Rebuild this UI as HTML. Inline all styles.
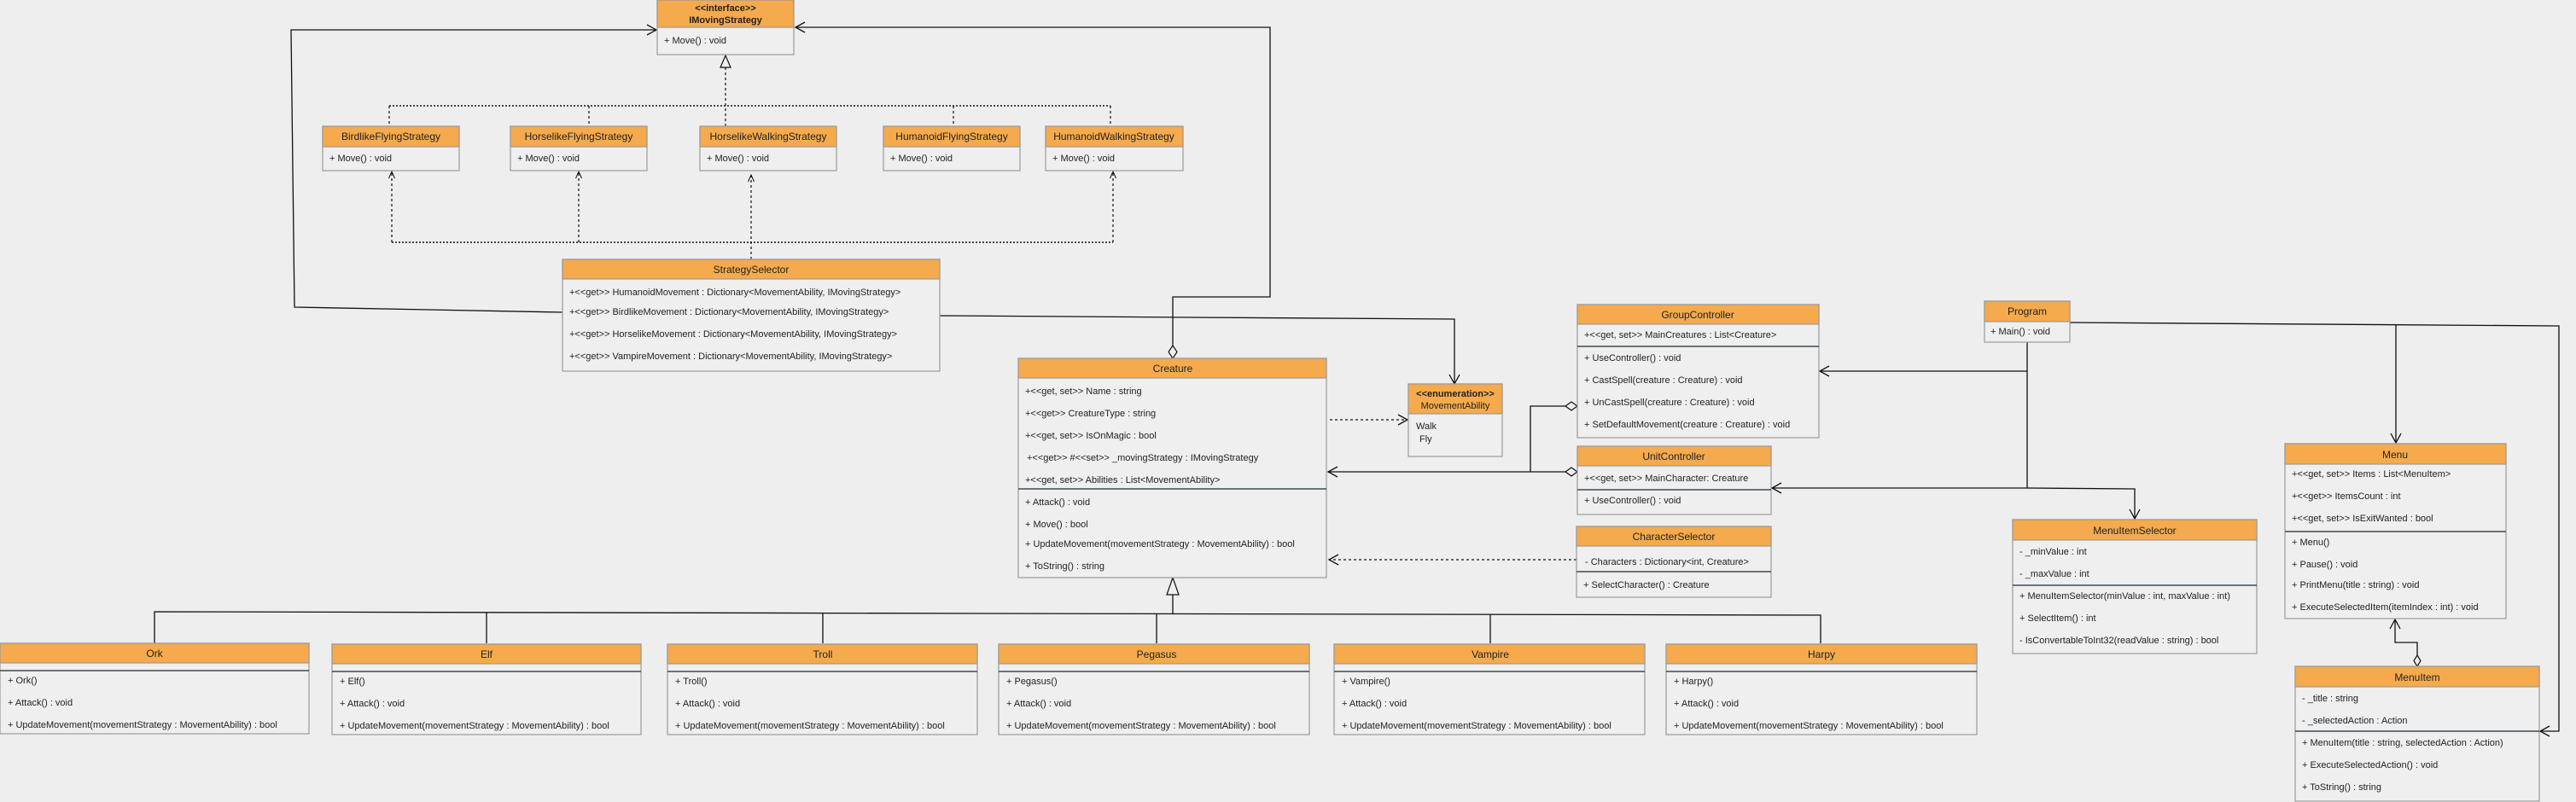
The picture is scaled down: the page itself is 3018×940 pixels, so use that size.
<!DOCTYPE html>
<html><head><meta charset="utf-8"><style>
html,body{margin:0;padding:0;background:#eeeeee;}
svg{display:block;}
text{font-family:"Liberation Sans",Arial,sans-serif;font-size:11px;fill:#222;}
.h{fill:#f4aa4d;stroke:#9a9a9a;stroke-width:1.2;}
.b{fill:#efefef;stroke:#9a9a9a;stroke-width:1.2;}
.t{text-anchor:middle;font-size:12px;}
.d{stroke:#3d4a57;stroke-width:1.5;}
.l{fill:none;stroke:#111;stroke-width:1.3;}
.ds{fill:none;stroke:#111;stroke-width:1.2;stroke-dasharray:3,3;}
.dot{fill:none;stroke:#111;stroke-width:1.5;stroke-dasharray:2,2;}
</style></head><body>
<svg width="3018" height="940" viewBox="0 0 3018 940" xmlns="http://www.w3.org/2000/svg">
<defs>
<marker id="o" markerUnits="userSpaceOnUse" markerWidth="14" markerHeight="14" refX="12" refY="7" orient="auto"><path d="M1,1 L12,7 L1,13" fill="none" stroke="#111" stroke-width="1.3"/></marker>
<marker id="s" markerUnits="userSpaceOnUse" markerWidth="10" markerHeight="10" refX="9" refY="5" orient="auto"><path d="M1,1.5 L9,5 L1,8.5" fill="none" stroke="#111" stroke-width="1"/></marker>
</defs>

<!-- connectors -->
<path class="dot" d="M456,124 L1301,124"/>
<path class="ds" d="M456,124 V148 M690,124 V148 M1117,124 V148 M1301,124 V148 M850,148 V78"/>
<polygon points="850,65 844,79 856,79" fill="#efefef" stroke="#111" stroke-width="1.2"/>
<path class="dot" d="M459,284 L1304,284"/>
<path class="ds" marker-end="url(#s)" d="M459,284 V201"/>
<path class="ds" marker-end="url(#s)" d="M678,284 V201"/>
<path class="ds" marker-end="url(#s)" d="M880,304 V205"/>
<path class="ds" marker-end="url(#s)" d="M1304,284 V201"/>
<path class="l" marker-end="url(#o)" d="M659,366 L345,360 L341,35 L769,35"/>
<path class="l" marker-end="url(#o)" d="M1374,405 L1374,348 L1488,348 L1488,32 L932,32"/>
<polygon points="1374,405 1379,412.5 1374,420 1369,412.5" fill="#efefef" stroke="#111" stroke-width="1.2"/>
<path class="l" marker-end="url(#o)" d="M1101,370 L1704,374 L1704,450"/>
<path class="ds" marker-end="url(#o)" d="M1558,492 L1649,492"/>
<path class="l" marker-end="url(#o)" d="M1834,553 L1556,553"/>
<path class="l" d="M1793,553 V476 H1834"/>
<polygon points="1848,553 1841,548 1834,553 1841,558" fill="#efefef" stroke="#111" stroke-width="1.2"/>
<polygon points="1848,476 1841,471 1834,476 1841,481" fill="#efefef" stroke="#111" stroke-width="1.2"/>
<path class="ds" marker-end="url(#o)" d="M1847,656 L1557,656"/>
<polygon points="1374,677 1367,697 1381,697" fill="#efefef" stroke="#111" stroke-width="1.2"/>
<path class="l" d="M1374,697 V719 M181,754 V717 L2133,721 V754 M570,754 V718 M964,754 V719 M1355,754 V720 M1746,754 V720"/>
<path class="l" marker-end="url(#o)" d="M2425,378 L2998,382 L2998,857 L2976,857"/>
<path class="l" marker-end="url(#o)" d="M2807,381 L2807,519"/>
<path class="l" marker-end="url(#o)" d="M2375,401 L2375,572 L2076,572"/>
<path class="l" marker-end="url(#o)" d="M2375,435 L2132,435"/>
<path class="l" marker-end="url(#o)" d="M2375,572 L2501,573 L2501,608"/>
<path class="l" marker-end="url(#o)" d="M2832,768 L2832,753 L2806,753 L2806,726"/>
<polygon points="2832,768 2836,774.5 2832,781 2828,774.5" fill="#efefef" stroke="#111" stroke-width="1.2"/>

<!-- IMovingStrategy -->
<rect class="b" x="770" y="0" width="160" height="64"/><rect class="h" x="770" y="0" width="160" height="32"/>
<text class="t" x="850" y="13" font-weight="bold" style="font-size:11px">&lt;&lt;interface&gt;&gt;</text>
<text class="t" x="850" y="27" font-weight="bold" style="font-size:11px">IMovingStrategy</text>
<text x="778" y="51">+ Move() : void</text>

<!-- strategies -->
<g>
<rect class="b" x="378" y="148" width="160" height="52"/><rect class="h" x="378" y="148" width="160" height="24"/>
<text class="t" x="458" y="164">BirdlikeFlyingStrategy</text><text x="386" y="189">+ Move() : void</text>
<rect class="b" x="598" y="148" width="160" height="52"/><rect class="h" x="598" y="148" width="160" height="24"/>
<text class="t" x="678" y="164">HorselikeFlyingStrategy</text><text x="606" y="189">+ Move() : void</text>
<rect class="b" x="820" y="148" width="160" height="52"/><rect class="h" x="820" y="148" width="160" height="24"/>
<text class="t" x="900" y="164">HorselikeWalkingStrategy</text><text x="828" y="189">+ Move() : void</text>
<rect class="b" x="1035" y="148" width="160" height="52"/><rect class="h" x="1035" y="148" width="160" height="24"/>
<text class="t" x="1115" y="164">HumanoidFlyingStrategy</text><text x="1043" y="189">+ Move() : void</text>
<rect class="b" x="1225" y="148" width="161" height="52"/><rect class="h" x="1225" y="148" width="161" height="24"/>
<text class="t" x="1305" y="164">HumanoidWalkingStrategy</text><text x="1233" y="189">+ Move() : void</text>
</g>

<!-- StrategySelector -->
<rect class="b" x="659" y="304" width="442" height="131"/><rect class="h" x="659" y="304" width="442" height="23"/>
<text class="t" x="880" y="320">StrategySelector</text>
<text x="667" y="346">+&lt;&lt;get&gt;&gt; HumanoidMovement : Dictionary&lt;MovementAbility, IMovingStrategy&gt;</text>
<text x="667" y="369">+&lt;&lt;get&gt;&gt; BirdlikeMovement : Dictionary&lt;MovementAbility, IMovingStrategy&gt;</text>
<text x="667" y="395">+&lt;&lt;get&gt;&gt; HorselikeMovement : Dictionary&lt;MovementAbility, IMovingStrategy&gt;</text>
<text x="667" y="421">+&lt;&lt;get&gt;&gt; VampireMovement : Dictionary&lt;MovementAbility, IMovingStrategy&gt;</text>

<!-- Creature -->
<rect class="b" x="1193" y="420" width="361" height="257"/><rect class="h" x="1193" y="420" width="361" height="23"/>
<text class="t" x="1374" y="436">Creature</text>
<text x="1201" y="462">+&lt;&lt;get, set&gt;&gt; Name : string</text>
<text x="1201" y="488">+&lt;&lt;get&gt;&gt; CreatureType : string</text>
<text x="1201" y="514">+&lt;&lt;get, set&gt;&gt; IsOnMagic : bool</text>
<text x="1203" y="540">+&lt;&lt;get&gt;&gt; #&lt;&lt;set&gt;&gt;  _movingStrategy : IMovingStrategy</text>
<text x="1201" y="566">+&lt;&lt;get, set&gt;&gt; Abilities : List&lt;MovementAbility&gt;</text>
<line class="d" x1="1193" y1="573" x2="1554" y2="573"/>
<text x="1201" y="592">+ Attack() : void</text>
<text x="1201" y="618">+ Move() : bool</text>
<text x="1201" y="641">+ UpdateMovement(movementStrategy : MovementAbility) : bool</text>
<text x="1201" y="667">+ ToString() : string</text>

<!-- MovementAbility -->
<rect class="b" x="1650" y="450" width="110" height="85"/><rect class="h" x="1650" y="450" width="110" height="35"/>
<text class="t" x="1705" y="465" font-weight="bold" style="font-size:11px">&lt;&lt;enumeration&gt;&gt;</text>
<text class="t" x="1705" y="479" style="font-size:11px">MovementAbility</text>
<text x="1659" y="503">Walk</text><text x="1663" y="518">Fly</text>

<!-- GroupController -->
<rect class="b" x="1848" y="357" width="283" height="156"/><rect class="h" x="1848" y="357" width="283" height="23"/>
<text class="t" x="1989" y="373">GroupController</text>
<text x="1856" y="396">+&lt;&lt;get, set&gt;&gt; MainCreatures : List&lt;Creature&gt;</text>
<line class="d" x1="1848" y1="406" x2="2131" y2="406"/>
<text x="1856" y="423">+ UseController() : void</text>
<text x="1856" y="449">+ CastSpell(creature : Creature) : void</text>
<text x="1856" y="475">+ UnCastSpell(creature : Creature) : void</text>
<text x="1856" y="501">+ SetDefaultMovement(creature : Creature) : void</text>

<!-- UnitController -->
<rect class="b" x="1848" y="523" width="227" height="80"/><rect class="h" x="1848" y="523" width="227" height="23"/>
<text class="t" x="1961" y="539">UnitController</text>
<text x="1856" y="564">+&lt;&lt;get, set&gt;&gt; MainCharacter: Creature</text>
<line class="d" x1="1848" y1="574" x2="2075" y2="574"/>
<text x="1856" y="590">+ UseController() : void</text>

<!-- CharacterSelector -->
<rect class="b" x="1847" y="617" width="228" height="83"/><rect class="h" x="1847" y="617" width="228" height="23"/>
<text class="t" x="1961" y="633">CharacterSelector</text>
<text x="1857" y="662">- Characters : Dictionary&lt;int, Creature&gt;</text>
<line class="d" x1="1847" y1="670" x2="2075" y2="670"/>
<text x="1855" y="689">+ SelectCharacter() : Creature</text>

<!-- Program -->
<rect class="b" x="2325" y="353" width="100" height="48"/><rect class="h" x="2325" y="353" width="100" height="24"/>
<text class="t" x="2375" y="369">Program</text>
<text x="2332" y="392">+ Main() : void</text>

<!-- MenuItemSelector -->
<rect class="b" x="2358" y="609" width="286" height="157"/><rect class="h" x="2358" y="609" width="286" height="24"/>
<text class="t" x="2501" y="626">MenuItemSelector</text>
<text x="2366" y="650">- _minValue : int</text>
<text x="2366" y="676">- _maxValue : int</text>
<line class="d" x1="2358" y1="686" x2="2644" y2="686"/>
<text x="2366" y="702">+ MenuItemSelector(minValue : int, maxValue : int)</text>
<text x="2366" y="728">+ SelectItem() : int</text>
<text x="2366" y="754">- IsConvertableToInt32(readValue : string) : bool</text>

<!-- Menu -->
<rect class="b" x="2677" y="520" width="259" height="205"/><rect class="h" x="2677" y="520" width="259" height="24"/>
<text class="t" x="2806" y="537">Menu</text>
<text x="2685" y="559">+&lt;&lt;get, set&gt;&gt; Items : List&lt;MenuItem&gt;</text>
<text x="2685" y="585">+&lt;&lt;get&gt;&gt; ItemsCount : int</text>
<text x="2685" y="611">+&lt;&lt;get, set&gt;&gt; IsExitWanted : bool</text>
<line class="d" x1="2677" y1="623" x2="2936" y2="623"/>
<text x="2685" y="639">+ Menu()</text>
<text x="2685" y="665">+ Pause() : void</text>
<text x="2685" y="689">+ PrintMenu(title : string) : void</text>
<text x="2685" y="715">+ ExecuteSelectedItem(itemIndex : int) : void</text>

<!-- MenuItem -->
<rect class="b" x="2689" y="781" width="286" height="158"/><rect class="h" x="2689" y="781" width="286" height="24"/>
<text class="t" x="2832" y="798">MenuItem</text>
<text x="2697" y="822">- _title : string</text>
<text x="2697" y="848">- _selectedAction : Action</text>
<line class="d" x1="2689" y1="857" x2="2975" y2="857"/>
<text x="2697" y="874">+ MenuItem(title : string, selectedAction : Action)</text>
<text x="2697" y="900">+ ExecuteSelectedAction() : void</text>
<text x="2697" y="926">+ ToString() : string</text>

<!-- subclasses -->
<g>
<rect class="b" x="0" y="754" width="362" height="106"/><rect class="h" x="0" y="754" width="362" height="23"/>
<text class="t" x="181" y="770">Ork</text><line class="d" x1="0" y1="786" x2="362" y2="786"/>
<text x="9" y="801">+ Ork()</text><text x="9" y="827">+ Attack() : void</text><text x="9" y="853">+ UpdateMovement(movementStrategy : MovementAbility) : bool</text>

<rect class="b" x="389" y="755" width="362" height="106"/><rect class="h" x="389" y="755" width="362" height="23"/>
<text class="t" x="570" y="771">Elf</text><line class="d" x1="389" y1="787" x2="751" y2="787"/>
<text x="398" y="802">+ Elf()</text><text x="398" y="828">+ Attack() : void</text><text x="398" y="854">+ UpdateMovement(movementStrategy : MovementAbility) : bool</text>

<rect class="b" x="782" y="755" width="363" height="106"/><rect class="h" x="782" y="755" width="363" height="23"/>
<text class="t" x="964" y="771">Troll</text><line class="d" x1="782" y1="787" x2="1145" y2="787"/>
<text x="791" y="802">+ Troll()</text><text x="791" y="828">+ Attack() : void</text><text x="791" y="854">+ UpdateMovement(movementStrategy : MovementAbility) : bool</text>

<rect class="b" x="1170" y="755" width="364" height="106"/><rect class="h" x="1170" y="755" width="364" height="23"/>
<text class="t" x="1355" y="771">Pegasus</text><line class="d" x1="1170" y1="787" x2="1534" y2="787"/>
<text x="1179" y="802">+ Pegasus()</text><text x="1179" y="828">+ Attack() : void</text><text x="1179" y="854">+ UpdateMovement(movementStrategy : MovementAbility) : bool</text>

<rect class="b" x="1563" y="755" width="364" height="106"/><rect class="h" x="1563" y="755" width="364" height="23"/>
<text class="t" x="1746" y="771">Vampire</text><line class="d" x1="1563" y1="787" x2="1927" y2="787"/>
<text x="1572" y="802">+ Vampire()</text><text x="1572" y="828">+ Attack() : void</text><text x="1572" y="854">+ UpdateMovement(movementStrategy : MovementAbility) : bool</text>

<rect class="b" x="1952" y="755" width="364" height="106"/><rect class="h" x="1952" y="755" width="364" height="23"/>
<text class="t" x="2134" y="771">Harpy</text><line class="d" x1="1952" y1="787" x2="2316" y2="787"/>
<text x="1961" y="802">+ Harpy()</text><text x="1961" y="828">+ Attack() : void</text><text x="1961" y="854">+ UpdateMovement(movementStrategy : MovementAbility) : bool</text>
</g>
</svg>
</body></html>
